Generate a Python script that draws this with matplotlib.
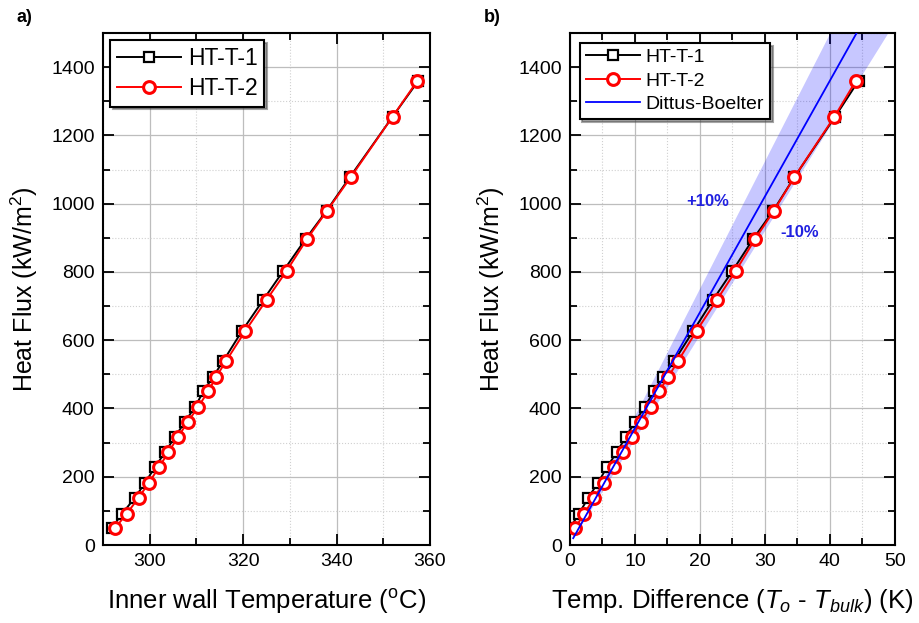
import numpy as np
import matplotlib
matplotlib.use("Agg")
import matplotlib.pyplot as plt
from matplotlib.ticker import MultipleLocator

plt.rcParams["font.family"] = ["Liberation Sans", "DejaVu Sans"]
plt.rcParams["mathtext.fontset"] = "custom"
plt.rcParams["mathtext.rm"] = "Liberation Sans"
plt.rcParams["mathtext.it"] = "Liberation Sans:italic"

# heat flux levels (kW/m2), same for both runs
q_flux = [50, 92, 138, 182, 228, 272, 317, 360, 405, 450, 492, 538,
          628, 718, 803, 897, 980, 1077, 1255, 1360]

# inner wall temperature (C)
tw_1 = [291.9, 294.1, 296.8, 299.0, 301.1, 303.3, 305.4, 307.5, 309.7, 311.5,
        313.5, 315.7, 319.8, 324.3, 328.6, 333.4, 337.9, 342.8, 352.0, 357.5]
tw_2 = [292.6, 295.1, 297.6, 299.8, 302.0, 304.0, 306.1, 308.1, 310.4, 312.5,
        314.2, 316.3, 320.5, 325.0, 329.3, 333.7, 338.0, 343.0, 352.0, 357.3]

# temperature difference To - Tbulk (K)
dt_1 = [0.0, 1.4, 2.8, 4.3, 5.7, 7.2, 8.6, 10.0, 11.5, 12.9,
        14.3, 16.0, 19.0, 22.0, 25.0, 28.2, 31.3, 34.5, 40.8, 44.4]
dt_2 = [0.8, 2.2, 3.7, 5.2, 6.7, 8.1, 9.5, 10.9, 12.4, 13.7,
        15.1, 16.6, 19.5, 22.6, 25.5, 28.5, 31.4, 34.5, 40.7, 44.0]

# Dittus-Boelter prediction (end points)
db_dt = np.array([0.5, 50.0])
db_q = np.array([20.0, 1700.0])


def style_axes(ax):
    ax.set_ylim(0, 1500)
    ax.yaxis.set_major_locator(MultipleLocator(200))
    ax.yaxis.set_minor_locator(MultipleLocator(100))
    ax.grid(which="major", color="#bdbdbd", lw=0.9, ls="-")
    ax.grid(which="minor", color="#d0d0d0", lw=0.8, ls=":")
    ax.set_axisbelow(True)
    ax.tick_params(which="both", direction="in", top=True, right=True,
                   width=1.3, labelsize=14, pad=6)
    ax.tick_params(which="major", length=8)
    ax.tick_params(which="minor", length=5)
    for s in ax.spines.values():
        s.set_linewidth(1.5)
    ax.set_ylabel("Heat Flux (kW/m$^2$)", fontsize=18, labelpad=8)


fig = plt.figure(figsize=(9.19, 6.23), dpi=100)

# a) wall temperature
ax1 = fig.add_axes([0.1121, 0.1252, 0.3558, 0.8218])
ax1.plot(tw_1, q_flux, color="black", lw=1.4, marker="s", ms=7.5,
         mfc="white", mec="black", mew=1.6, label="HT-T-1")
ax1.plot(tw_2, q_flux, color="red", lw=1.4, marker="o", ms=8.5,
         mfc="white", mec="red", mew=2.2, label="HT-T-2")
ax1.set_xlim(290, 360)
ax1.xaxis.set_major_locator(MultipleLocator(20))
ax1.xaxis.set_minor_locator(MultipleLocator(10))
style_axes(ax1)
ax1.set_xlabel("Inner wall Temperature ($^{\\mathrm{o}}$C)", fontsize=18.5, labelpad=12)
leg1 = ax1.legend(loc="upper left", fontsize=16.5, handlelength=2.8,
                  fancybox=False, shadow=True, edgecolor="black",
                  borderaxespad=0.3, handletextpad=0.3, labelspacing=0.3,
                  borderpad=0.3)
leg1.get_frame().set_linewidth(1.5)

# b) temperature difference
ax2 = fig.add_axes([0.6202, 0.1252, 0.3536, 0.8218])
ax2.fill_between(db_dt, db_q * 0.9, db_q * 1.1, color="blue", alpha=0.22, lw=0)
ax2.plot(dt_1, q_flux, color="black", lw=1.4, marker="s", ms=7.5,
         mfc="white", mec="black", mew=1.6, label="HT-T-1", zorder=3)
ax2.plot(dt_2, q_flux, color="red", lw=1.4, marker="o", ms=8.5,
         mfc="white", mec="red", mew=2.2, label="HT-T-2", zorder=4)
ax2.plot(db_dt, db_q, color="blue", lw=1.3, label="Dittus-Boelter", zorder=5)
ax2.set_xlim(0, 50)
ax2.xaxis.set_major_locator(MultipleLocator(10))
ax2.xaxis.set_minor_locator(MultipleLocator(5))
style_axes(ax2)
ax2.set_xlabel("Temp. Difference ($T_o$ - $T_{bulk}$) (K)", fontsize=18.5, labelpad=12)
ax2.text(21.2, 1005, "+10%", color="#2020e0", fontsize=12, fontweight="bold",
         ha="center", va="center")
ax2.text(35.4, 917, "-10%", color="#2020e0", fontsize=12, fontweight="bold",
         ha="center", va="center")
leg2 = ax2.legend(loc="upper left", fontsize=14, handlelength=2.8,
                  fancybox=False, shadow=True, edgecolor="black",
                  borderaxespad=0.5, handletextpad=0.3, labelspacing=0.3,
                  borderpad=0.3)
leg2.get_frame().set_linewidth(1.5)

fig.text(24 / 919, 1 - 18 / 623, "a)", fontsize=13, fontweight="bold",
         ha="center", va="center")
fig.text(492 / 919, 1 - 17 / 623, "b)", fontsize=13, fontweight="bold",
         ha="center", va="center")

fig.savefig("out.png", dpi=100)
